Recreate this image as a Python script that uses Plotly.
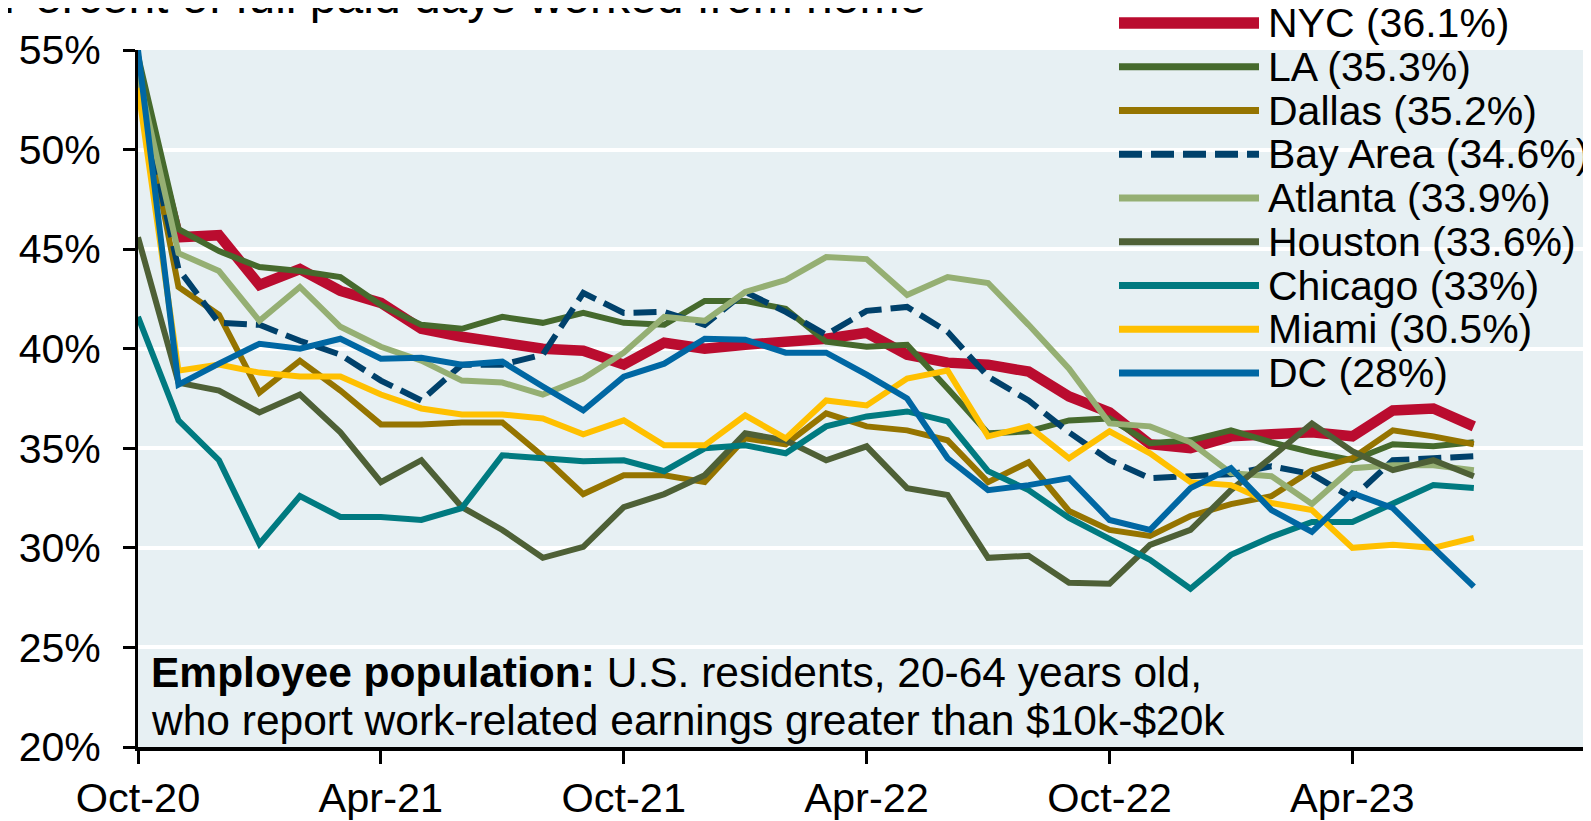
import plotly.graph_objects as go

# ---------------- data ----------------
months = ["Oct-20", "Nov-20", "Dec-20", "Jan-21", "Feb-21", "Mar-21", "Apr-21", "May-21", "Jun-21",
          "Jul-21", "Aug-21", "Sep-21", "Oct-21", "Nov-21", "Dec-21", "Jan-22", "Feb-22", "Mar-22",
          "Apr-22", "May-22", "Jun-22", "Jul-22", "Aug-22", "Sep-22", "Oct-22", "Nov-22", "Dec-22",
          "Jan-23", "Feb-23", "Mar-23", "Apr-23", "May-23", "Jun-23", "Jul-23"]
tick_labels = ["Oct-20", "Apr-21", "Oct-21", "Apr-22", "Oct-22", "Apr-23"]

nyc = [53.5, 45.6, 45.7, 43.2, 44.0, 42.9, 42.3, 41.0, 40.6, 40.3, 40.0, 39.9, 39.2, 40.3, 40.0, 40.2, 40.3,
       40.5, 40.8, 39.7, 39.3, 39.2, 38.85, 37.6, 36.8, 35.2, 35.0, 35.6, 35.7, 35.8, 35.6, 36.9, 37.0, 36.1]
la = [54.7, 46.0, 44.9, 44.1, 43.9, 43.6, 42.2, 41.2, 41.0, 41.6, 41.3, 41.8, 41.3, 41.2, 42.4, 42.4, 42.0,
      40.35, 40.1, 40.2, 38.0, 35.75, 35.85, 36.4, 36.5, 35.25, 35.4, 35.9, 35.3, 34.8, 34.4, 35.2, 35.1, 35.3]
dallas = [53.5, 43.1, 41.7, 37.8, 39.4, 37.9, 36.2, 36.2, 36.3, 36.3, 34.6, 32.7, 33.65, 33.65, 33.3, 35.5,
          35.2, 36.75, 36.1, 35.9, 35.4, 33.3, 34.3, 31.85, 30.9, 30.6, 31.6, 32.2, 32.6, 33.9, 34.5, 35.9,
          35.6, 35.2]
bay_area = [53.0, 44.0, 41.3, 41.2, 40.4, 39.7, 38.4, 37.4, 39.2, 39.2, 39.7, 42.8, 41.8, 41.85, 41.2, 42.85,
            41.85, 40.7, 41.9, 42.1, 40.85, 38.6, 37.4, 35.8, 34.4, 33.5, 33.6, 33.7, 34.1, 33.7, 32.5, 34.4,
            34.5, 34.6]
atlanta = [53.8, 44.8, 43.9, 41.4, 43.1, 41.1, 40.1, 39.4, 38.4, 38.3, 37.7, 38.5, 39.8, 41.6, 41.4, 42.85,
           43.45, 44.6, 44.5, 42.7, 43.6, 43.3, 41.2, 39.0, 36.25, 36.1, 35.3, 33.75, 33.6, 32.2, 34.0, 34.15,
           34.15, 33.9]
houston = [45.6, 38.3, 37.9, 36.8, 37.7, 35.8, 33.3, 34.4, 32.05, 30.9, 29.5, 30.05, 32.05, 32.7, 33.65,
           35.75, 35.4, 34.4, 35.1, 33.0, 32.65, 29.5, 29.6, 28.25, 28.2, 30.15, 30.9, 32.9, 34.55, 36.25,
           34.85, 33.9, 34.4, 33.6]
chicago = [41.6, 36.4, 34.4, 30.2, 32.6, 31.55, 31.55, 31.4, 32.0, 34.65, 34.5, 34.35, 34.4, 33.85, 35.0,
           35.15, 34.75, 36.1, 36.6, 36.85, 36.35, 33.85, 32.9, 31.5, 30.45, 29.4, 27.95, 29.65, 30.55, 31.3,
           31.3, 32.25, 33.15, 33.0]
miami = [53.1, 38.9, 39.2, 38.8, 38.6, 38.6, 37.7, 37.0, 36.7, 36.7, 36.5, 35.7, 36.4, 35.15, 35.15, 36.65,
         35.5, 37.4, 37.15, 38.5, 38.9, 35.6, 36.1, 34.5, 35.85, 34.75, 33.3, 33.15, 32.25, 31.9, 30.0,
         30.15, 30.0, 30.5]
dc = [55.0, 38.2, 39.25, 40.25, 40.0, 40.5, 39.5, 39.55, 39.2, 39.35, 38.1, 36.9, 38.6, 39.25, 40.5, 40.45,
      39.8, 39.8, 38.7, 37.5, 34.5, 32.9, 33.15, 33.5, 31.4, 30.9, 33.0, 34.0, 31.9, 30.8, 32.75, 32.0,
      30.0, 28.05]

series_names = ["NYC", "LA", "Dallas", "Bay Area", "Atlanta", "Houston", "Chicago", "Miami", "DC"]
legend_labels = ["NYC (36.1%)", "LA (35.3%)", "Dallas (35.2%)", "Bay Area (34.6%)", "Atlanta (33.9%)",
                 "Houston (33.6%)", "Chicago (33%)", "Miami (30.5%)", "DC (28%)"]
series_values = [nyc, la, dallas, bay_area, atlanta, houston, chicago, miami, dc]

title_text = "Percent of full paid days worked from home"
note_line1 = "<b>Employee population:</b> U.S. residents, 20-64 years old,"
note_line2 = "who report work-related earnings greater than $10k-$20k"

# ---------------- styles ----------------
colors = ["#BA0C2F", "#466A2D", "#957400", "#00416B", "#95AF73", "#4E6036", "#007A80", "#FFC000", "#0067A3"]
widths = [10.5, 6, 6, 6, 6, 6, 6, 6, 6]
dashes = ["solid", "solid", "solid", "23px,9px", "solid", "solid", "solid", "solid", "solid"]
FONT = "Liberation Sans, Arial, sans-serif"

OFF = 8                      # page body margin of the browser
W, H = 1591 - OFF, 821 - OFF
L, T, B = 138 - OFF, 50 - OFF, 74
PW, PH = W - L, H - T - B
MONTH_PX = 40.48


def px_x(px):
    """target-screen pixel x -> paper x"""
    return (px - OFF - L) / PW


def px_y(py):
    """target-screen pixel y -> paper y"""
    return (H - B - (py - OFF)) / PH


fig = go.Figure()
for name, vals, col, wd, ds in zip(series_names, series_values, colors, widths, dashes):
    fig.add_trace(go.Scatter(x=months, y=vals, name=name, mode="lines",
                             line=dict(color=col, width=wd, dash=ds), showlegend=False))

# manual legend (samples + labels)
shapes = []
annotations = []
for k, (lab, col, wd, ds) in enumerate(zip(legend_labels, colors, widths, dashes)):
    yy = 23 + k * 43.75
    shapes.append(dict(type="line", xref="paper", yref="paper", x0=px_x(1119), x1=px_x(1259),
                       y0=px_y(yy), y1=px_y(yy),
                       line=dict(color=col, width=wd + 1, dash=ds)))
    annotations.append(dict(text=lab, xref="paper", yref="paper", x=px_x(1266), y=px_y(yy),
                            xanchor="left", yanchor="middle", showarrow=False,
                            font=dict(family=FONT, size=41, color="black")))

annotations.append(dict(text=title_text, xref="paper", yref="paper", x=px_x(1), y=px_y(-4),
                        xanchor="left", yanchor="middle", showarrow=False,
                        font=dict(family=FONT, size=48, color="black")))
annotations.append(dict(text=note_line1, xref="paper", yref="paper", x=px_x(149), y=px_y(672),
                        xanchor="left", yanchor="middle", showarrow=False,
                        font=dict(family=FONT, size=42.5, color="black")))
annotations.append(dict(text=note_line2, xref="paper", yref="paper", x=px_x(149), y=px_y(720),
                        xanchor="left", yanchor="middle", showarrow=False,
                        font=dict(family=FONT, size=42.5, color="black")))

fig.update_layout(
    width=W, height=H,
    margin=dict(l=L, r=0, t=T, b=B, pad=0),
    paper_bgcolor="white",
    plot_bgcolor="#E7F0F3",
    showlegend=False,
    shapes=shapes,
    annotations=annotations,
    font=dict(family=FONT, size=41, color="black"),
)
fig.update_xaxes(
    type="category", range=[0, PW / MONTH_PX],
    tickmode="array", tickvals=tick_labels, ticktext=tick_labels,
    showgrid=False, zeroline=False,
    showline=True, linecolor="black", linewidth=4,
    ticks="outside", ticklen=13, tickwidth=3, tickcolor="black",
    ticklabelstandoff=-2,
    tickfont=dict(family=FONT, size=41.5, color="black"),
    automargin=False,
)
fig.update_yaxes(
    range=[20, 55], dtick=5, tick0=20, ticksuffix="%",
    showgrid=True, gridcolor="white", gridwidth=3.5, zeroline=False,
    showline=True, linecolor="black", linewidth=3,
    ticks="outside", ticklen=12, tickwidth=3, tickcolor="black",
    ticklabelstandoff=14,
    tickfont=dict(family=FONT, size=41, color="black"),
    automargin=False,
)

fig.write_html("out.html")
